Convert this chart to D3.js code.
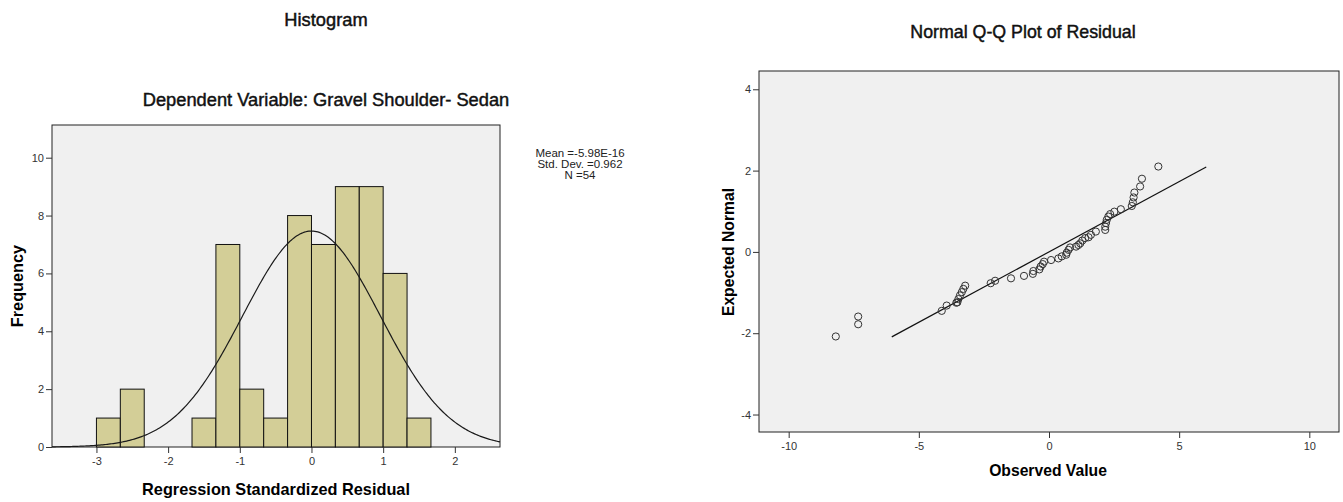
<!DOCTYPE html>
<html>
<head>
<meta charset="utf-8">
<script src="https://cdn.jsdelivr.net/npm/d3@7"></script>
<style>
  body { margin: 0; background: #fff; }
  svg { display: block; font-family: "Liberation Sans", Arial, sans-serif; }
  .tick text { font-size: 11px; fill: #333; }
  .tick line { stroke: #333; }
  .title { fill: #111; stroke: #111; stroke-width: 0.45px; }
</style>
</head>
<body>
<div id="chart"></div>
<script>
// ---- histogram data ----
var histBinStart = [-3, -8/3, -7/3, -2, -5/3, -4/3, -1, -2/3, -1/3, 0, 1/3, 2/3, 1, 4/3];
var histCounts   = [1, 2, 0, 0, 1, 7, 2, 1, 8, 7, 9, 9, 6, 1];
var histBinWidth = 1/3;
var histXTicks = [-3, -2, -1, 0, 1, 2];
var histYTicks = [0, 2, 4, 6, 8, 10];
var histMean = -5.98e-16, histSd = 0.962, histN = 54;
var statsLines = ["Mean =-5.98E-16", "Std. Dev. =0.962", "N =54"];

// ---- Q-Q data ----
var qqObserved = [-8.19, -7.33, -7.33, -4.12, -3.93, -3.56, -3.52, -3.48, -3.42, -3.35, -3.29, -3.22,
  -2.24, -2.07, -1.46, -0.96, -0.62, -0.60, -0.37, -0.32, -0.24, -0.19, 0.08, 0.36, 0.49, 0.66,
  0.68, 0.75, 0.81, 1.04, 1.13, 1.20, 1.28, 1.39, 1.52, 1.61, 1.80, 2.16, 2.16, 2.19, 2.22, 2.28,
  2.35, 2.51, 2.76, 3.18, 3.22, 3.25, 3.28, 3.50, 3.57, 4.20];
var qqExpected = [-2.08, -1.78, -1.59, -1.45, -1.32, -1.25, -1.24, -1.16, -1.07, -0.99, -0.91, -0.83,
  -0.77, -0.71, -0.65, -0.59, -0.54, -0.47, -0.43, -0.36, -0.30, -0.24, -0.20, -0.16, -0.11, -0.07,
  -0.02, 0.05, 0.11, 0.13, 0.17, 0.21, 0.28, 0.34, 0.36, 0.42, 0.50, 0.54, 0.62, 0.71, 0.79, 0.87,
  0.93, 0.99, 1.05, 1.13, 1.22, 1.34, 1.46, 1.61, 1.80, 2.10];
var qqLineX = [-6.04, 6.04];
var qqLineY = [-2.09, 2.09];
var qqXTicks = [-10, -5, 0, 5, 10];
var qqYTicks = [-4, -2, 0, 2, 4];

var plain = function (d) { return String(d); }; // hyphen minus like the original

var svg = d3.select('#chart').append('svg')
  .attr('width', 1343).attr('height', 502);

// =========== HISTOGRAM ===========
var h = { left: 52, top: 125, right: 500, bottom: 447 };
var hx = d3.scaleLinear().domain([-3.62, 2.63]).range([h.left, h.right]);
var hy = d3.scaleLinear().domain([0, 11.13]).range([h.bottom, h.top]);

svg.append('text').attr('class', 'title').attr('x', 326).attr('y', 25.5).attr('text-anchor', 'middle')
  .style('font-size', '18.3px').text('Histogram');
svg.append('text').attr('class', 'title').attr('x', 326).attr('y', 105.5).attr('text-anchor', 'middle')
  .style('font-size', '18.3px')
  .text('Dependent Variable: Gravel Shoulder- Sedan');

svg.append('rect').attr('x', h.left).attr('y', h.top)
  .attr('width', h.right - h.left).attr('height', h.bottom - h.top)
  .attr('fill', '#f0f0f0').attr('stroke', '#222').attr('stroke-width', 1);

var hg = svg.append('g');
hg.selectAll('rect.bar')
  .data(histCounts.map(function (c, i) { return { x0: histBinStart[i], n: c }; })
    .filter(function (d) { return d.n > 0; }))
  .enter().append('rect')
  .attr('class', 'bar')
  .attr('x', function (d) { return hx(d.x0); })
  .attr('y', function (d) { return hy(d.n); })
  .attr('width', function (d) { return hx(d.x0 + histBinWidth) - hx(d.x0); })
  .attr('height', function (d) { return hy(0) - hy(d.n); })
  .attr('fill', '#d3ce97').attr('stroke', '#111').attr('stroke-width', 1);

// normal curve from the shown mean / sd / N
var curveX = d3.range(0, 301).map(function (i) { return -3.62 + i * (2.63 + 3.62) / 300; });
var normal = function (x) {
  var z = (x - histMean) / histSd;
  return histN * histBinWidth * Math.exp(-0.5 * z * z) / (histSd * Math.sqrt(2 * Math.PI));
};
hg.append('path')
  .attr('d', d3.line().x(function (x) { return hx(x); }).y(function (x) { return hy(normal(x)); })(curveX))
  .attr('fill', 'none').attr('stroke', '#1a1a1a').attr('stroke-width', 1.2);

svg.append('g').attr('transform', 'translate(' + h.left + ',0)')
  .call(d3.axisLeft(hy).tickValues(histYTicks).tickFormat(plain).tickSize(6).tickPadding(2))
  .call(function (g) { g.select('.domain').remove(); });
svg.append('g').attr('transform', 'translate(0,' + h.bottom + ')')
  .call(d3.axisBottom(hx).tickValues(histXTicks).tickFormat(plain).tickSize(6).tickPadding(4))
  .call(function (g) { g.select('.domain').remove(); });

svg.append('text').attr('transform', 'translate(23,286) rotate(-90)').attr('text-anchor', 'middle')
  .style('font-size', '16.3px').style('font-weight', 'bold').text('Frequency');
svg.append('text').attr('x', 276).attr('y', 495).attr('text-anchor', 'middle')
  .style('font-size', '16.3px').style('font-weight', 'bold').text('Regression Standardized Residual');

svg.append('g').selectAll('text').data(statsLines).enter().append('text')
  .attr('x', 580).attr('y', function (d, i) { return 157 + i * 11; })
  .attr('text-anchor', 'middle').style('font-size', '11.5px').style('fill', '#222')
  .text(function (d) { return d; });

// =========== Q-Q PLOT ===========
var q = { left: 759, top: 71, right: 1339, bottom: 432 };
var qx = d3.scaleLinear().domain([-11.14, 11.14]).range([q.left, q.right]);
var qy = d3.scaleLinear().domain([-4.43, 4.45]).range([q.bottom, q.top]);

svg.append('text').attr('class', 'title').attr('x', 1023).attr('y', 37.5).attr('text-anchor', 'middle')
  .style('font-size', '17.8px').text('Normal Q-Q Plot of Residual');

svg.append('rect').attr('x', q.left).attr('y', q.top)
  .attr('width', q.right - q.left).attr('height', q.bottom - q.top)
  .attr('fill', '#f0f0f0').attr('stroke', '#222').attr('stroke-width', 1);

svg.append('line')
  .attr('x1', qx(qqLineX[0])).attr('y1', qy(qqLineY[0]))
  .attr('x2', qx(qqLineX[1])).attr('y2', qy(qqLineY[1]))
  .attr('stroke', '#111').attr('stroke-width', 1.2);

svg.append('g').selectAll('circle')
  .data(qqObserved.map(function (v, i) { return [v, qqExpected[i]]; }))
  .enter().append('circle')
  .attr('cx', function (d) { return qx(d[0]); })
  .attr('cy', function (d) { return qy(d[1]); })
  .attr('r', 3.6)
  .attr('fill', 'none').attr('stroke', '#333').attr('stroke-width', 1);

svg.append('g').attr('transform', 'translate(' + q.left + ',0)')
  .call(d3.axisLeft(qy).tickValues(qqYTicks).tickFormat(plain).tickSize(6).tickPadding(2))
  .call(function (g) { g.select('.domain').remove(); });
svg.append('g').attr('transform', 'translate(0,' + q.bottom + ')')
  .call(d3.axisBottom(qx).tickValues(qqXTicks).tickFormat(plain).tickSize(6).tickPadding(4))
  .call(function (g) { g.select('.domain').remove(); });

svg.append('text').attr('transform', 'translate(734,252) rotate(-90)').attr('text-anchor', 'middle')
  .style('font-size', '15.7px').style('font-weight', 'bold').text('Expected Normal');
svg.append('text').attr('x', 1048).attr('y', 476).attr('text-anchor', 'middle')
  .style('font-size', '15.7px').style('font-weight', 'bold').text('Observed Value');
</script>
</body>
</html>
